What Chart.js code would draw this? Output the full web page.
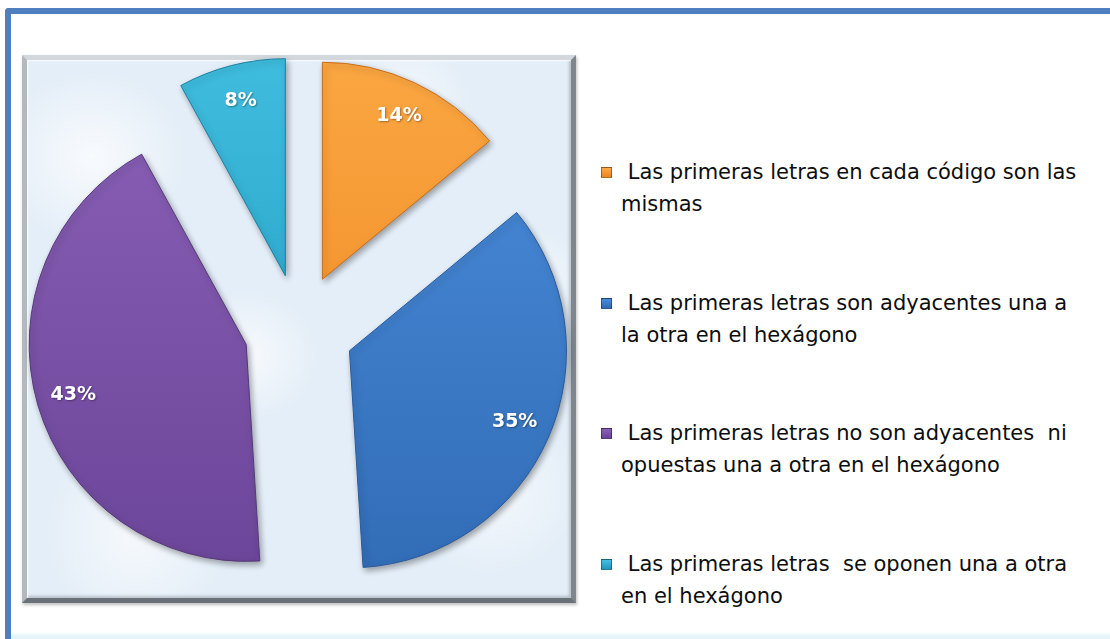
<!DOCTYPE html>
<html lang="es">
<head>
<meta charset="utf-8">
<title>Primeras letras</title>
<script src="https://cdn.jsdelivr.net/npm/chart.js@4/dist/chart.umd.min.js"></script>
<style>
  html, body {
    margin: 0;
    padding: 0;
    width: 1110px;
    height: 639px;
    overflow: hidden;
    background: #fff;
  }
  #frame {
    position: absolute;
    left: 5px;
    top: 8px;
    width: 1105px;
    height: 631px;
    box-sizing: border-box;
    border-left: 6px solid #4f7fbf;
    border-top: 6px solid #4f7fbf;
    border-radius: 4px 0 0 0;
    background: linear-gradient(to bottom, #fff 0, #fff 618px, #e6f4fa 622px, #e6f4fa 100%);
  }
  #plot {
    position: absolute;
    left: 22px;
    top: 55px;
    width: 554px;
    height: 548px;
    box-sizing: border-box;
    border: 5px solid;
    border-color: #d3d8dd #7f868d #6b7179 #b3b9bf;
    background-color: #e4eef8;
    background-image:
      radial-gradient(ellipse at 12% 18%, rgba(255,255,255,.75) 0, rgba(255,255,255,0) 14%),
      radial-gradient(ellipse at 70% 10%, rgba(255,255,255,.6) 0, rgba(255,255,255,0) 12%),
      radial-gradient(ellipse at 40% 55%, rgba(255,255,255,.7) 0, rgba(255,255,255,0) 16%),
      radial-gradient(ellipse at 85% 80%, rgba(255,255,255,.6) 0, rgba(255,255,255,0) 14%),
      radial-gradient(ellipse at 20% 88%, rgba(255,255,255,.65) 0, rgba(255,255,255,0) 15%),
      radial-gradient(ellipse at 92% 40%, rgba(255,255,255,.5) 0, rgba(255,255,255,0) 10%);
    box-shadow: inset 1px 1px 2px rgba(255,255,255,.9),
                inset -2px -2px 3px rgba(70,80,90,.3),
                1px 2px 3px rgba(0,0,0,.25);
  }
  #plot canvas {
    position: absolute;
    left: -5px;
    top: -5px;
  }
  .item {
    position: absolute;
    left: 601px;
  }
  .key {
    position: absolute;
    left: 0;
    top: 11px;
    width: 11px;
    height: 11px;
    box-sizing: border-box;
    border: 1px solid rgba(0,0,0,.35);
  }
  .text {
    position: absolute;
    left: 20px;
    top: 0;
    white-space: pre;
    font: 21px/32px "DejaVu Sans", sans-serif;
    color: #0d0d0d;
  }
</style>
</head>
<body>
<div id="frame"></div>
<div id="plot"><canvas id="pieChart" width="554" height="548"></canvas></div>
<div id="legend"></div>

<script>
// categories (each one split into the lines shown in the legend)
const labels = [
  [' Las primeras letras en cada código son las', 'mismas'],
  [' Las primeras letras son adyacentes una a', 'la otra en el hexágono'],
  [' Las primeras letras no son adyacentes  ni', 'opuestas una a otra en el hexágono'],
  [' Las primeras letras  se oponen una a otra', 'en el hexágono']
];

// share of answers, in percent
const values = [14, 35, 43, 8];

// slice colours: light top, dark bottom, outline
const sliceLight = ['#fbaa45', '#4a8cda', '#8a60b6', '#42c0e1'];
const sliceDark = ['#ee8420', '#2f69b3', '#684396', '#1f98be'];
const sliceEdge = ['#c96e1a', '#285a9c', '#553878', '#1a80a2'];

const EXPLODE = 55;      // how far each slice is pulled out of the pie
const LABEL_DIST = 235;  // distance of the % labels from the pie centre

function sliceFill(context) {
  const i = context.dataIndex;
  const area = context.chart.chartArea;
  if (!area) return sliceDark[i];
  const g = context.chart.ctx.createLinearGradient(0, area.top, 0, area.bottom);
  g.addColorStop(0, sliceLight[i]);
  g.addColorStop(1, sliceDark[i]);
  return g;
}

// pulls every slice out along its bisector, adds the drop shadow and the % labels
const explodedSlices = {
  id: 'explodedSlices',
  afterDatasetUpdate(chart, args) {
    args.meta.data.forEach(arc => {
      if (arc.$exploded) return;
      const drawArc = arc.draw;
      arc.draw = function (ctx) {
        const mid = (this.startAngle + this.endAngle) / 2;
        ctx.save();
        ctx.translate(Math.cos(mid) * EXPLODE, Math.sin(mid) * EXPLODE);
        drawArc.call(this, ctx);
        ctx.restore();
      };
      arc.$exploded = true;
    });
  },
  beforeDatasetsDraw(chart) {
    const ctx = chart.ctx;
    ctx.save();
    ctx.shadowColor = 'rgba(0, 0, 0, 0.35)';
    ctx.shadowBlur = 6;
    ctx.shadowOffsetX = 2;
    ctx.shadowOffsetY = 3;
  },
  afterDatasetsDraw(chart) {
    const ctx = chart.ctx;
    ctx.restore();

    const data = chart.data.datasets[0].data;
    const total = data.reduce((a, b) => a + b, 0);
    ctx.save();
    ctx.font = 'bold 19px "DejaVu Sans", sans-serif';
    ctx.fillStyle = '#ffffff';
    ctx.textAlign = 'center';
    ctx.textBaseline = 'middle';
    ctx.shadowColor = 'rgba(0, 0, 0, 0.35)';
    ctx.shadowBlur = 2;
    ctx.shadowOffsetX = 1;
    ctx.shadowOffsetY = 1;
    chart.getDatasetMeta(0).data.forEach((arc, i) => {
      const mid = (arc.startAngle + arc.endAngle) / 2;
      const x = arc.x + Math.cos(mid) * LABEL_DIST;
      const y = arc.y + Math.sin(mid) * LABEL_DIST;
      ctx.fillText(Math.round(data[i] / total * 100) + '%', x, y);
    });
    ctx.restore();
  }
};

const pieChart = new Chart(document.getElementById('pieChart'), {
  type: 'pie',
  data: {
    labels: labels,
    datasets: [{
      data: values,
      backgroundColor: sliceFill,
      borderColor: sliceEdge,
      borderWidth: 1,
      radius: 217
    }]
  },
  options: {
    responsive: false,
    animation: false,
    layout: { padding: 0 },
    plugins: {
      legend: { display: false },
      tooltip: { enabled: false }
    }
  },
  plugins: [explodedSlices]
});

// legend on the right, built from the chart's own labels
const legendBox = document.getElementById('legend');
pieChart.data.labels.forEach((lines, i) => {
  const item = document.createElement('div');
  item.className = 'item';
  item.style.top = (156 + i * 130.5) + 'px';

  const key = document.createElement('span');
  key.className = 'key';
  key.style.background = 'linear-gradient(' + sliceLight[i] + ', ' + sliceDark[i] + ')';

  const text = document.createElement('div');
  text.className = 'text';
  text.textContent = lines.join('\n');

  item.appendChild(key);
  item.appendChild(text);
  legendBox.appendChild(item);
});
</script>
</body>
</html>
